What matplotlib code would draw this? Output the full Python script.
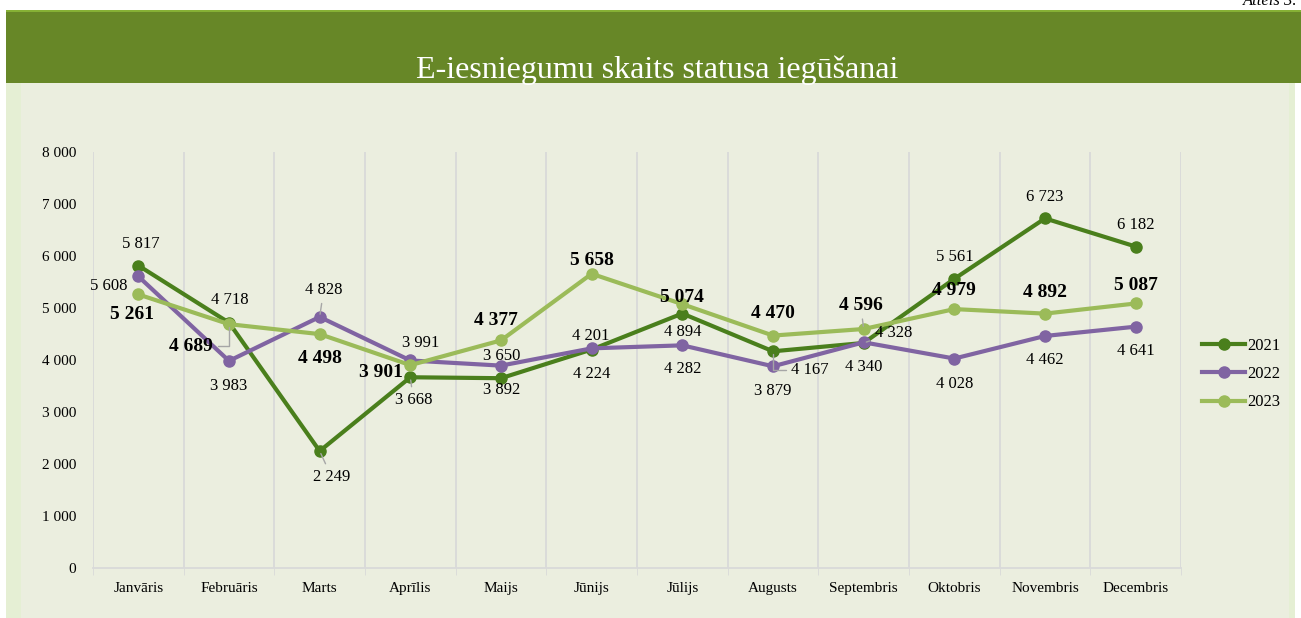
import matplotlib.pyplot as plt
from matplotlib.patches import Rectangle

months = ['Janvāris', 'Februāris', 'Marts', 'Aprīlis', 'Maijs', 'Jūnijs',
          'Jūlijs', 'Augusts', 'Septembris', 'Oktobris', 'Novembris', 'Decembris']
years = ['2021', '2022', '2023']
v2021 = [5817, 4718, 2249, 3668, 3650, 4201, 4894, 4167, 4328, 5561, 6723, 6182]
v2022 = [5608, 3983, 4828, 3991, 3892, 4224, 4282, 3879, 4340, 4028, 4462, 4641]
v2023 = [5261, 4689, 4498, 3901, 4377, 5658, 5074, 4470, 4596, 4979, 4892, 5087]
yticks = [0, 1000, 2000, 3000, 4000, 5000, 6000, 7000, 8000]

colors = ['#4A7F1C', '#8064A2', '#9BBB59']
bg = '#EBEEDF'

# label offsets in pixels (dx, dy) and which labels get a leader line
off2021 = [(2, 22), (1, 23), (12, -26), (3, -23), (1, 22), (-1, 14), (0, -18),
           (37, -19), (30, 10), (0, 22), (0, 21), (0, 22)]
off2022 = [(-30, -10), (0, -25), (4, 27), (10, 17), (1, -24), (0, -26), (0, -24),
           (0, -25), (0, -25), (0, -25), (0, -24), (0, -24)]
off2023 = [(-6, -20), (-38, -22), (0, -24), (-29, -7), (-5, 20), (0, 13), (0, 7),
           (0, 22), (-3, 24), (0, 19), (0, 21), (0, 18)]
lead2021 = [2, 3, 7, 8]
lead2022 = [2]
lead2023 = [1, 8]
elbow = {(0, 7), (2, 1)}

plt.rcParams['font.family'] = ['Liberation Serif', 'DejaVu Serif']

fig = plt.figure(figsize=(13.01, 6.18), dpi=100)
fig.patch.set_facecolor('white')

# background panel and title band
fig.add_artist(Rectangle((6 / 1301, 0), 1289 / 1301, 535 / 618, transform=fig.transFigure,
                         facecolor=bg, edgecolor='none', zorder=0))
fig.add_artist(Rectangle((6 / 1301, 0), 15 / 1301, 535 / 618, transform=fig.transFigure,
                         facecolor='#E5EFD4', edgecolor='none', zorder=0))
fig.add_artist(Rectangle((1289 / 1301, 0), 6 / 1301, 535 / 618, transform=fig.transFigure,
                         facecolor='#E5EFD4', edgecolor='none', zorder=0))
fig.add_artist(Rectangle((6 / 1301, 535 / 618), 1295 / 1301, 73 / 618, transform=fig.transFigure,
                         facecolor='#678727', edgecolor='none', zorder=0))
fig.add_artist(Rectangle((6 / 1301, 606 / 618), 1295 / 1301, 2 / 618, transform=fig.transFigure,
                         facecolor='#86B135', edgecolor='none', zorder=0))
fig.text(657 / 1301, 548 / 618, 'E-iesniegumu skaits statusa iegūšanai', color='white',
         fontsize=23, ha='center', va='center')
fig.text(1297 / 1301, 613 / 618, 'Attēls 3.', fontsize=12, style='italic',
         ha='right', va='baseline')

ax = fig.add_axes([93 / 1301, 50 / 618, 1088 / 1301, 416 / 618])
ax.set_facecolor('none')
x = list(range(len(months)))
series = [v2021, v2022, v2023]
for vals, c, yr in zip(series, colors, years):
    ax.plot(x, vals, color=c, lw=3, marker='o', ms=8, label=yr, zorder=3)

ax.set_xlim(-0.5, 11.5)
ax.set_ylim(0, 8000)
ax.set_yticks(yticks)
ax.set_yticklabels([f'{v:,}'.replace(',', ' ') for v in yticks], fontsize=11)
ax.set_xticks(x)
ax.set_xticklabels(months, fontsize=11)
ax.set_xticks([i - 0.5 for i in range(13)], minor=True)
ax.tick_params(axis='x', which='major', length=0, pad=10)
ax.tick_params(axis='x', which='minor', length=5, color='#D9D9D9')
ax.tick_params(axis='y', length=0, pad=12)
for i in range(13):
    ax.axvline(i - 0.5, color='#D9D9D9', lw=1.3, zorder=1)
for s in ['top', 'right', 'left']:
    ax.spines[s].set_visible(False)
ax.spines['bottom'].set_color('#D9D9D9')
ax.spines['bottom'].set_linewidth(1.3)

def labels(k, vals, offs, leads, bold):
    for i, (v, (dx, dy)) in enumerate(zip(vals, offs)):
        txt = f'{v:,}'.replace(',', ' ')
        kw = dict(textcoords='offset pixels', ha='center', va='center', zorder=4,
                  fontsize=14 if bold else 12, fontweight='bold' if bold else 'normal')
        if i in leads:
            kw['arrowprops'] = dict(arrowstyle='-', color='#A6A6A6', lw=1,
                                    shrinkA=2, shrinkB=2)
            if (k, i) in elbow:
                kw['arrowprops']['connectionstyle'] = 'angle,angleA=0,angleB=90,rad=0'
        ax.annotate(txt, (i, v), xytext=(dx, dy), **kw)

labels(0, v2021, off2021, lead2021, False)
labels(1, v2022, off2022, lead2022, False)
labels(2, v2023, off2023, lead2023, True)

ax.legend(loc='center left', bbox_to_anchor=(1187 / 1301, (618 - 374) / 618),
          bbox_transform=fig.transFigure, frameon=False, fontsize=12,
          handlelength=2.6, labelspacing=0.75, handletextpad=0.1)

fig.savefig('out.png', dpi=100, facecolor=fig.get_facecolor())
